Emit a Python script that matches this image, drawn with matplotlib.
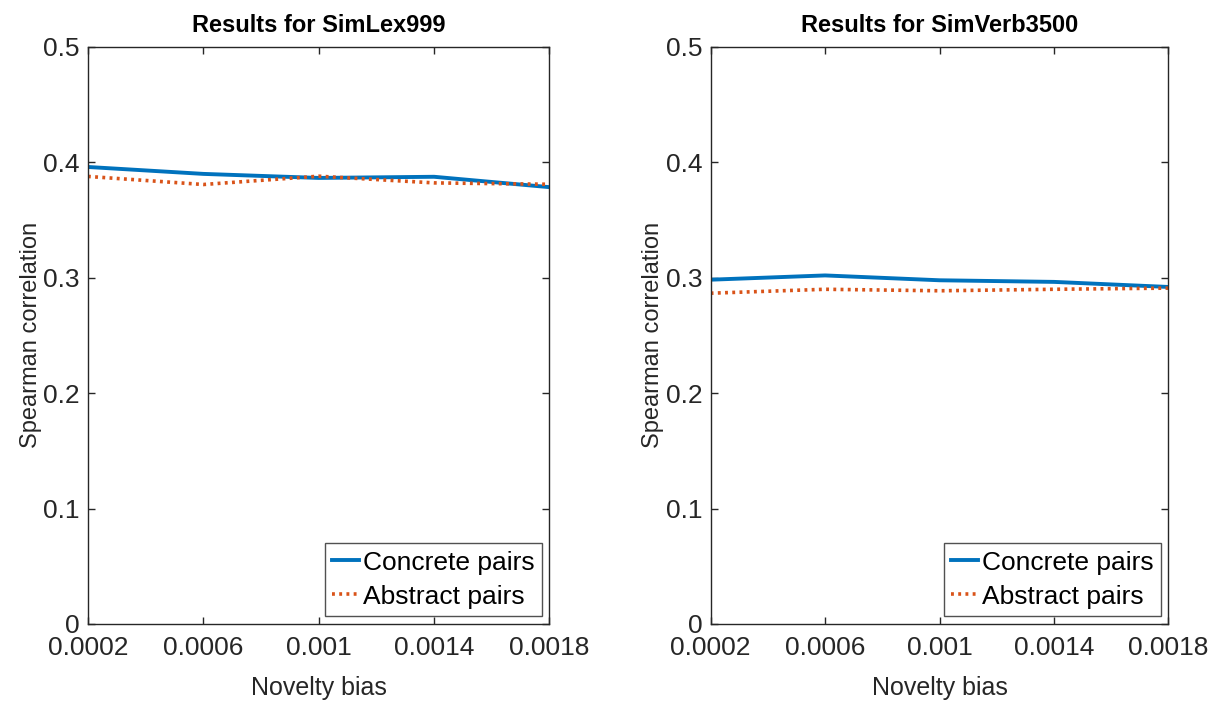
import matplotlib
matplotlib.use('Agg')
import matplotlib.pyplot as plt
from matplotlib.ticker import FuncFormatter

plt.rcParams['font.family'] = ['Liberation Sans', 'DejaVu Sans']

# Novelty bias values tested
bias = [0.0002, 0.0006, 0.001, 0.0014, 0.0018]

# Spearman correlations per dataset
simlex_concrete = [0.396, 0.390, 0.3865, 0.3875, 0.3785]
simlex_abstract = [0.3878, 0.3808, 0.3880, 0.3822, 0.3810]
simverb_concrete = [0.2983, 0.3020, 0.2978, 0.2964, 0.2920]
simverb_abstract = [0.2866, 0.2900, 0.2887, 0.2900, 0.2910]

titles = ['Results for SimLex999', 'Results for SimVerb3500']
series = [(simlex_concrete, simlex_abstract), (simverb_concrete, simverb_abstract)]

blue = '#0072BD'
orange = '#D95319'
dark = '#262626'

fig = plt.figure(figsize=(12.21, 7.01), dpi=100)
positions = [[0.072, 0.11, 0.378, 0.823], [0.582, 0.11, 0.375, 0.823]]

for pos, title, (conc, abst) in zip(positions, titles, series):
    ax = fig.add_axes(pos)
    ax.plot(bias, conc, color=blue, linewidth=2.8, label='Concrete pairs')
    ax.plot(bias, abst, color=orange, linewidth=2.6, dashes=(0.8, 1.2),
            label='Abstract pairs')
    ax.set_xlim(0.0002, 0.0018)
    ax.set_ylim(0, 0.5)
    ax.set_xticks(bias)
    ax.set_yticks([0, 0.1, 0.2, 0.3, 0.4, 0.5])
    ax.xaxis.set_major_formatter(FuncFormatter(lambda v, p: '%g' % v))
    ax.yaxis.set_major_formatter(FuncFormatter(lambda v, p: '%g' % v))
    ax.tick_params(direction='in', top=True, right=True, length=5, width=1,
                   labelsize=19, colors=dark)
    ax.tick_params(axis='x', pad=9)
    ax.tick_params(axis='y', pad=6)
    for s in ax.spines.values():
        s.set_color(dark)
        s.set_linewidth(1)
    ax.set_title(title, fontsize=17, fontweight='bold', pad=11)
    ax.set_xlabel('Novelty bias', fontsize=18, color=dark, labelpad=11)
    ax.set_ylabel('Spearman correlation', fontsize=17, color=dark, labelpad=1)
    leg = ax.legend(loc='lower right', fontsize=19, frameon=True, fancybox=False,
                    handlelength=1.0, handletextpad=0.15, borderpad=0.28,
                    labelspacing=0.38, borderaxespad=0.3)
    leg.get_frame().set_edgecolor(dark)
    leg.get_frame().set_linewidth(1)

fig.savefig('out.png', dpi=100)
